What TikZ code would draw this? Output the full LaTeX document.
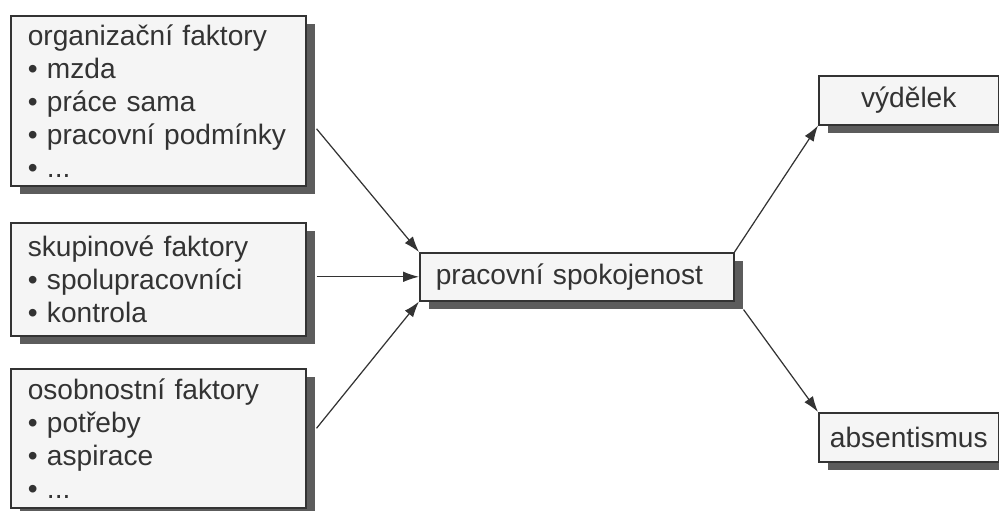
\documentclass[tikz,border=0pt]{standalone}
\usepackage{fontspec}
\setmainfont{Liberation Sans}
\usetikzlibrary{arrows.meta,shadows,calc,positioning}
\definecolor{boxgray}{gray}{0.96}
\definecolor{shadowgray}{gray}{0.36}
\definecolor{inkgray}{gray}{0.2}
\tikzset{
	every node/.style={
		font=\fontsize{16}{18.8}\selectfont,
		text=inkgray
	},
	faktor/.style={
		shape=rectangle,
		anchor=north west,
		text width=5.22cm,
		inner xsep=0.34cm,
		align=left,
		fill=boxgray,
		draw=inkgray,
		line width=0.9pt,
		drop shadow={shadow xshift=0.19cm, shadow yshift=-0.17cm, fill=shadowgray, opacity=1}
	},
	stred/.style={
		shape=rectangle,
		anchor=north west,
		text width=5.64cm,
		inner xsep=0.32cm,
		minimum height=0.96cm,
		align=left,
		fill=boxgray,
		draw=inkgray,
		line width=0.9pt,
		drop shadow={shadow xshift=0.18cm, shadow yshift=-0.16cm, fill=shadowgray, opacity=1}
	},
	dusledek/.style={
		shape=rectangle,
		anchor=north west,
		minimum width=3.6cm,
		minimum height=0.98cm,
		align=center,
		fill=boxgray,
		draw=inkgray,
		line width=0.9pt,
		drop shadow={shadow xshift=0.18cm, shadow yshift=-0.16cm, fill=shadowgray, opacity=1}
	},
	vazba/.style={
		-{Latex[length=9pt,width=6pt]},
		draw=inkgray,
		line width=0.7pt
	}
}

\begin{document}
\begin{tikzpicture}[x=0.02cm, y=-0.02cm]
	\useasboundingbox (0,0) rectangle (999,510);
	
	% factors
	\node[faktor, minimum height=3.4cm] (organiz) at (10,15)
	{organizační faktory\\ • mzda\\ • práce sama\\ • pracovní podmínky\\ • ...};
	\node[faktor, minimum height=2.26cm] (skupin) at (10,222)
	{skupinové faktory\\ • spolupracovníci\\ • kontrola};
	\node[faktor, minimum height=2.78cm] (osobni) at (10,368)
	{osobnostní faktory\\ • potřeby\\ • aspirace\\ • ...};
	
	\node[stred] (spokoj) at (419,252) {pracovní spokojenost};
	
	\node[dusledek] (vydelek) at (818,75) {výdělek};
	\node[dusledek] (absent) at (818,412) {absentismus};
	
	\coordinate (skupvystup) at ($(skupin.east)+(10,0)$);
	
	\draw[vazba] ($(organiz.east)+(10,28)$) -- (spokoj.north west);
	\draw[vazba] (skupvystup |- spokoj.west) -- (spokoj.west);
	\draw[vazba] ($(osobni.east)+(10,-10)$) -- (spokoj.south west);
	\draw[vazba] (spokoj.north east) -- (vydelek.south west);
	\draw[vazba] ($(spokoj.south east)+(9,8)$) -- (absent.north west);
\end{tikzpicture}
\end{document}
